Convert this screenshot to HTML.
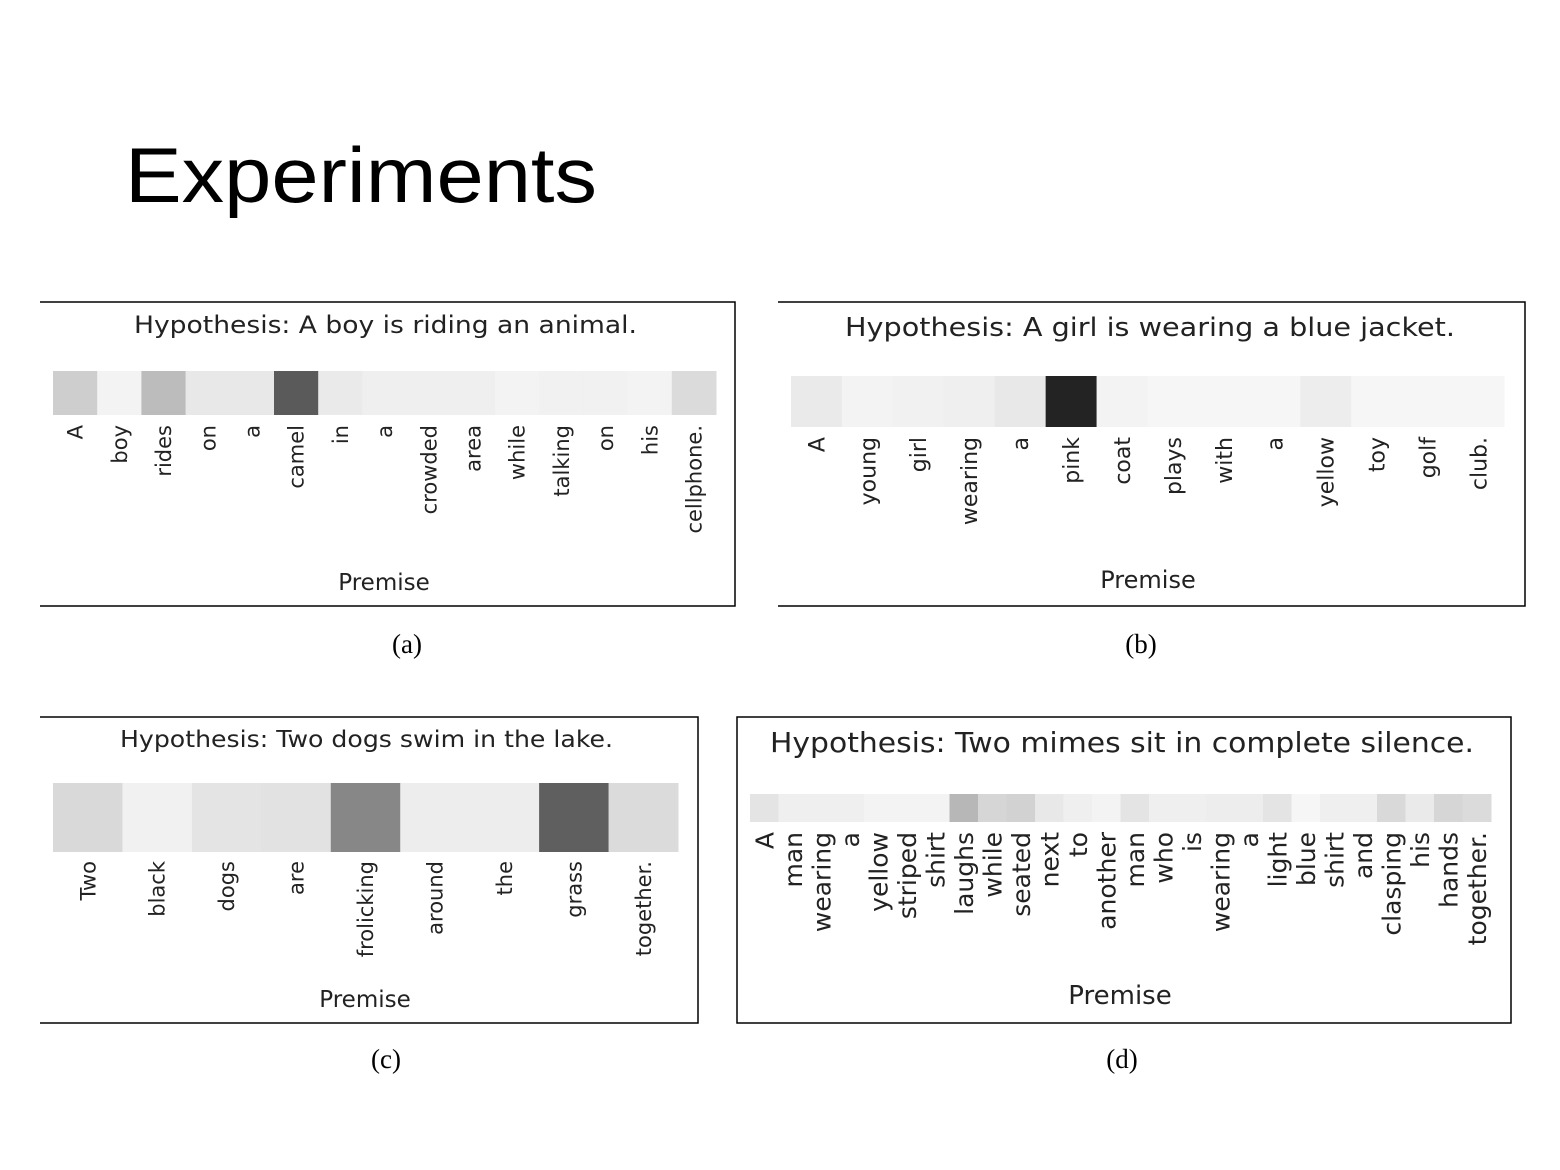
<!DOCTYPE html>
<html><head><meta charset="utf-8"><style>
html,body{margin:0;padding:0;background:#fff;}
svg{display:block;}
</style></head><body>
<svg id="s" width="1560" height="1170" viewBox="0 0 1560 1170" xmlns="http://www.w3.org/2000/svg">
<rect width="1560" height="1170" fill="#fff"/>
<text x="125" y="202" font-family="Liberation Sans, sans-serif" font-size="78" fill="#000" textLength="472" lengthAdjust="spacingAndGlyphs">Experiments</text>
<g id="frames" stroke="#000" stroke-width="1.5" fill="none">
<polyline points="40,302 735,302 735,606 40,606"/>
<polyline points="778,302 1525,302 1525,606 778,606"/>
<polyline points="40,717 698,717 698,1023 40,1023"/>
<rect x="737" y="717" width="774" height="306"/>
</g>
<g font-family="Liberation Serif, serif" font-size="27" fill="#000" text-anchor="middle">
<text x="407" y="653">(a)</text>
<text x="1141" y="653">(b)</text>
<text x="386" y="1068">(c)</text>
<text x="1122" y="1068">(d)</text>
</g>
</svg>
<script>
const wordsA=["A","boy","rides","on","a","camel","in","a","crowded","area","while","talking","on","his","cellphone."];
const valsA=[0.2,0.03,0.28,0.08,0.08,0.72,0.07,0.05,0.05,0.05,0.03,0.04,0.04,0.03,0.14];
const wordsB=["A","young","girl","wearing","a","pink","coat","plays","with","a","yellow","toy","golf","club."];
const valsB=[0.07,0.03,0.04,0.05,0.08,0.97,0.03,0.02,0.02,0.02,0.06,0.02,0.02,0.02];
const wordsC=["Two","black","dogs","are","frolicking","around","the","grass","together."];
const valsC=[0.15,0.04,0.1,0.11,0.52,0.06,0.06,0.7,0.14];
const wordsD=["A","man","wearing","a","yellow","striped","shirt","laughs","while","seated","next","to","another","man","who","is","wearing","a","light","blue","shirt","and","clasping","his","hands","together."];
const valsD=[0.1,0.05,0.05,0.05,0.03,0.03,0.03,0.3,0.16,0.18,0.08,0.05,0.03,0.1,0.05,0.05,0.06,0.06,0.1,0.02,0.05,0.05,0.15,0.07,0.16,0.14];
const titles=["Hypothesis: A boy is riding an animal.","Hypothesis: A girl is wearing a blue jacket.","Hypothesis: Two dogs swim in the lake.","Hypothesis: Two mimes sit in complete silence."];

const NS="http://www.w3.org/2000/svg";
const svg=document.getElementById('s');
function mk(tag,attrs,parent){const e=document.createElementNS(NS,tag);for(const k in attrs)e.setAttribute(k,attrs[k]);(parent||svg).appendChild(e);return e;}
function gray(v){const g=Math.round(250-v*(250-28));return `rgb(${g},${g},${g})`;}

const panels=[
 {id:'a',w:wordsA,v:valsA,t:titles[0],x0:53,x1:716,y0:371,y1:415,ly:425,fs:21,tx:134,tw:503,ty:333,tfs:24,px:384,py:590,pfs:23},
 {id:'b',w:wordsB,v:valsB,t:titles[1],x0:791,x1:1504,y0:376,y1:427,ly:437,fs:22,tx:845,tw:610,ty:336,tfs:26,px:1148,py:588,pfs:24},
 {id:'c',w:wordsC,v:valsC,t:titles[2],x0:53,x1:678,y0:783,y1:852,ly:861,fs:21,tx:120,tw:493,ty:747,tfs:23,px:365,py:1007,pfs:23},
 {id:'d',w:wordsD,v:valsD,t:titles[3],x0:750,x1:1491,y0:794,y1:822,ly:832,fs:25,tx:770,tw:704,ty:752,tfs:28,px:1120,py:1004,pfs:26}
];
panels.forEach(p=>{
 const g=mk('g',{});
 
 
 const t=mk('text',{x:p.tx,y:p.ty,'font-family':'DejaVu Sans, sans-serif','font-size':p.tfs,fill:'#222',textLength:p.tw,lengthAdjust:'spacingAndGlyphs'},g);
 t.textContent=p.t;
 
 
 const n=p.w.length, cw=(p.x1-p.x0)/n;
 const xs=i=>p.x0+i*cw;
 p.v.forEach((val,i)=>{
  const r=mk('rect',{x:xs(i),y:p.y0,width:cw+0.5,height:p.y1-p.y0,fill:gray(val)},g);
  
  
 });
 p.w.forEach((w,i)=>{
  const cx=xs(i)+cw/2+p.fs*0.36;
  const l=mk('text',{x:cx,y:p.ly,'font-family':'DejaVu Sans, sans-serif','font-size':p.fs,fill:'#222','text-anchor':'end',transform:`rotate(-90 ${cx} ${p.ly})`},g);
  l.textContent=w;
  
  
 });
 const pl=mk('text',{x:p.px,y:p.py,'font-family':'DejaVu Sans, sans-serif','font-size':p.pfs,fill:'#222','text-anchor':'middle'},g);
 pl.textContent='Premise';
 
 
});
</script>
</body></html>
